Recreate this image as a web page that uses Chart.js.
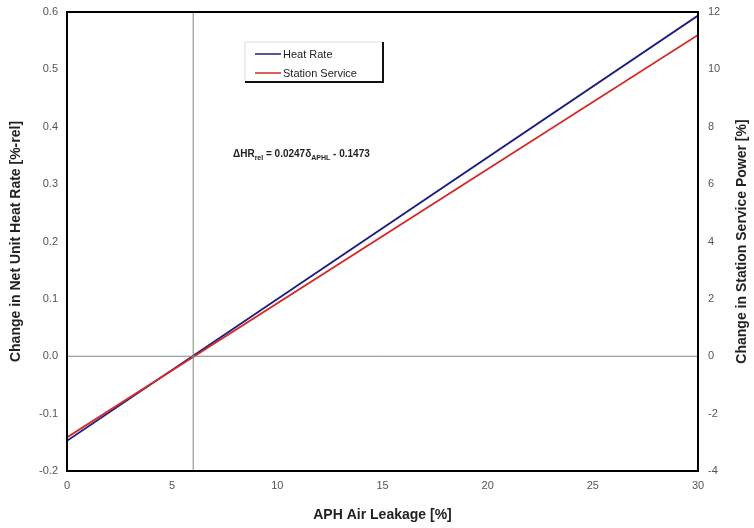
<html lang="en">
<head>
  <meta charset="UTF-8">
  <title>APH Air Leakage</title>
  <style>
    body { margin: 0; background: #fff; }
    #wrap { width: 754px; height: 528px; }
  </style>
</head>
<body>
  <div id="wrap"><canvas id="myChart" width="754" height="528"></canvas></div>
  <script src="https://cdn.jsdelivr.net/npm/chart.js@4.4.0/dist/chart.umd.min.js"></script>
  <script>
    // air leakage [%]
    const leakage = [0, 30];
    // heat rate change [%-rel], left axis
    const heatRate = [-0.1473, 0.5937];
    // station service power change [%], right axis
    const stationService = [-2.83, 11.2];
    // reference crosshair at the baseline leakage
    const baseLeakage = 6;
    const leftTicks = [-0.2, -0.1, 0.0, 0.1, 0.2, 0.3, 0.4, 0.5, 0.6];
    const rightTicks = [-4, -2, 0, 2, 4, 6, 8, 10, 12];
    const xTicks = [0, 5, 10, 15, 20, 25, 30];

    const FONT = 'Liberation Sans, Arial, sans-serif';
    const tickFont = { family: FONT, size: 11 };
    const titleFont = { family: FONT, size: 14, weight: 'bold' };

    const pts = (xs, ys) => xs.map((x, i) => ({ x: x, y: ys[i] }));

    // frame around the plot, legend box, right title and the fit equation
    const decorations = {
      id: 'decorations',
      afterDatasetsDraw(chart) {
        const { ctx, chartArea: a } = chart;
        ctx.save();
        ctx.strokeStyle = '#000';
        ctx.lineWidth = 2;
        ctx.strokeRect(a.left, a.top, a.right - a.left, a.bottom - a.top);

        // right axis title, reading bottom to top like the left one
        ctx.save();
        ctx.translate(742, (a.top + a.bottom) / 2);
        ctx.rotate(-Math.PI / 2);
        ctx.font = 'bold 14px ' + FONT;
        ctx.fillStyle = '#222';
        ctx.textAlign = 'center';
        ctx.textBaseline = 'middle';
        ctx.fillText('Change in Station Service Power [%]', 0, 0);
        ctx.restore();

        // legend
        const lx = 245, ly = 42, lw = 138, lh = 40;
        ctx.fillStyle = '#fff';
        ctx.fillRect(lx, ly, lw, lh);
        ctx.lineWidth = 1;
        ctx.strokeStyle = '#ddd';
        ctx.beginPath();
        ctx.moveTo(lx, ly + lh); ctx.lineTo(lx, ly); ctx.lineTo(lx + lw, ly);
        ctx.stroke();
        ctx.strokeStyle = '#111';
        ctx.lineWidth = 2;
        ctx.beginPath();
        ctx.moveTo(lx + lw, ly); ctx.lineTo(lx + lw, ly + lh); ctx.lineTo(lx, ly + lh);
        ctx.stroke();
        const items = [['Heat Rate', '#1c1c80', 54], ['Station Service', '#d42a2a', 73]];
        ctx.font = '11px ' + FONT;
        ctx.textBaseline = 'middle';
        items.forEach(([label, col, y]) => {
          ctx.strokeStyle = col;
          ctx.lineWidth = 1.5;
          ctx.beginPath();
          ctx.moveTo(255, y); ctx.lineTo(281, y);
          ctx.stroke();
          ctx.fillStyle = '#222';
          ctx.fillText(label, 283, y + 1);
        });

        // equation with subscripts
        let x = 233;
        const base = 157;
        const parts = [
          ['\u0394HR', 10, 0], ['rel', 7, 3], [' = 0.0247\u03b4', 10, 0], ['APHL', 7, 3], [' - 0.1473', 10, 0]
        ];
        ctx.fillStyle = '#222';
        ctx.textBaseline = 'alphabetic';
        parts.forEach(([t, size, dy]) => {
          ctx.font = 'bold ' + size + 'px ' + FONT;
          ctx.fillText(t, x, base + dy);
          x += ctx.measureText(t).width;
        });
        ctx.restore();
      }
    };

    const noEdgePad = s => { s.paddingTop = 0; s.paddingBottom = 0; };

    new Chart(document.getElementById('myChart'), {
      type: 'line',
      data: {
        datasets: [
          {
            label: 'vertical',
            data: pts([baseLeakage, baseLeakage], [leftTicks[0], leftTicks[leftTicks.length - 1]]),
            borderColor: '#7a8a7a', borderWidth: 1, pointRadius: 0, yAxisID: 'y'
          },
          {
            label: 'zero',
            data: pts([xTicks[0], xTicks[xTicks.length - 1]], [0, 0]),
            borderColor: '#7a8a7a', borderWidth: 1, pointRadius: 0, yAxisID: 'y'
          },
          {
            label: 'Station Service',
            data: pts(leakage, stationService),
            borderColor: '#d42a2a', borderWidth: 1.8, pointRadius: 0, yAxisID: 'y2'
          },
          {
            label: 'Heat Rate',
            data: pts(leakage, heatRate),
            borderColor: '#1c1c80', borderWidth: 1.8, pointRadius: 0, yAxisID: 'y'
          }
        ]
      },
      options: {
        responsive: false,
        animation: false,
        layout: { padding: { top: 12, left: 4, right: 0, bottom: 0 } },
        plugins: { legend: { display: false }, tooltip: { enabled: false } },
        scales: {
          x: {
            type: 'linear', min: 0, max: 30,
            afterBuildTicks: s => { s.ticks = xTicks.map(v => ({ value: v })); },
            afterFit: s => { s.height = 57; s.paddingLeft = 0; s.paddingRight = 0; },
            grid: { display: false, drawTicks: false },
            border: { display: false },
            ticks: { font: tickFont, color: '#555', padding: 8 },
            title: { display: true, text: 'APH Air Leakage [%]', font: titleFont, color: '#222', padding: { top: 6 } }
          },
          y: {
            position: 'left', min: -0.2, max: 0.6,
            afterBuildTicks: s => { s.ticks = leftTicks.map(v => ({ value: v })); },
            afterFit: s => { s.width = 63; noEdgePad(s); },
            grid: { display: false, drawTicks: false },
            border: { display: false },
            ticks: { font: tickFont, color: '#555', padding: 9, callback: v => v.toFixed(1) },
            title: { display: true, text: 'Change in Net Unit Heat Rate [%-rel]', font: titleFont, color: '#222', padding: { bottom: 2 } }
          },
          y2: {
            position: 'right', min: -4, max: 12,
            afterBuildTicks: s => { s.ticks = rightTicks.map(v => ({ value: v })); },
            afterFit: s => { s.width = 56; noEdgePad(s); },
            grid: { display: false, drawTicks: false },
            border: { display: false },
            ticks: { font: tickFont, color: '#555', padding: 10, callback: v => String(v) },
            title: { display: false }
          }
        }
      },
      plugins: [decorations]
    });
  </script>
</body>
</html>
